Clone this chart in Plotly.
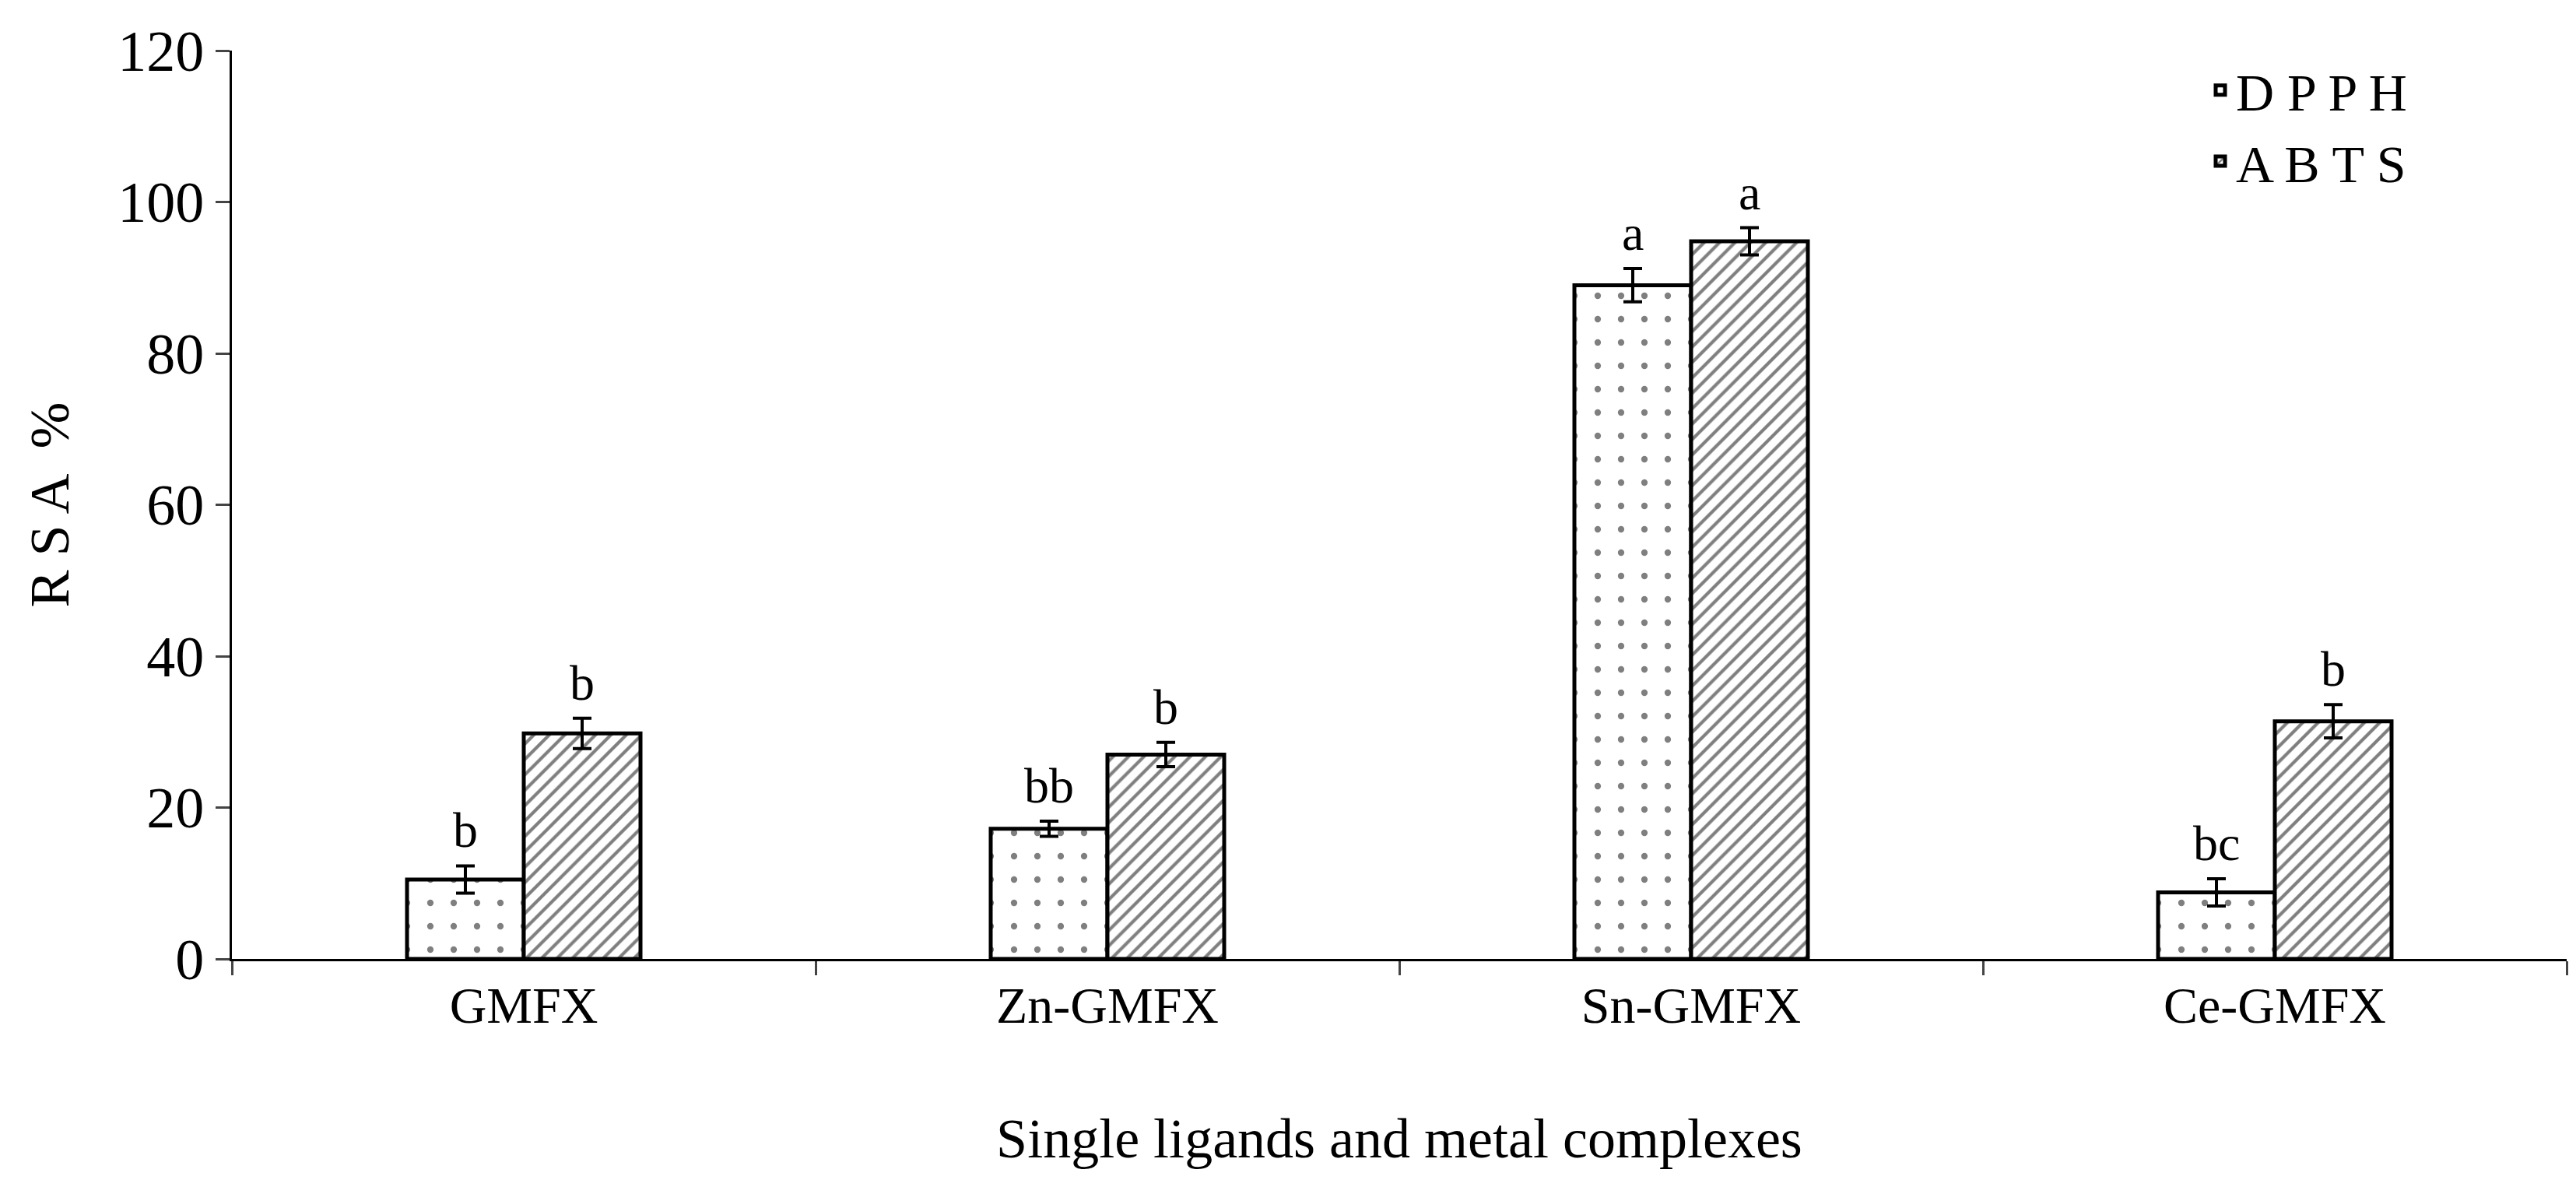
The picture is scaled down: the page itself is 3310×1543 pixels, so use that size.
import plotly.graph_objects as go

categories = ["GMFX", "Zn-GMFX", "Sn-GMFX", "Ce-GMFX"]
dpph = [10.5, 17.2, 89.0, 8.8]
dpph_err = [1.8, 1.0, 2.2, 1.8]
dpph_lbl = ["b", "bb", "a", "bc"]
abts = [29.8, 27.0, 94.8, 31.4]
abts_err = [2.0, 1.6, 1.8, 2.2]
abts_lbl = ["b", "b", "a", "b"]

font = "Liberation Serif, Times New Roman, serif"

fig = go.Figure()
fig.add_trace(go.Bar(
    x=categories, y=dpph, name="D P P H",
    marker=dict(color="white", line=dict(color="black", width=5),
                pattern=dict(shape=".", fgcolor="black", bgcolor="white", size=30, solidity=0.06)),
    error_y=dict(type="data", array=dpph_err, color="black", thickness=4, width=12),
))
fig.add_trace(go.Bar(
    x=categories, y=abts, name="A B T S",
    marker=dict(color="white", line=dict(color="black", width=5),
                pattern=dict(shape="/", fgcolor="black", bgcolor="white", size=14, solidity=0.3)),
    error_y=dict(type="data", array=abts_err, color="black", thickness=4, width=12),
))

# significance letters above the error bars
for cat, v, e, t in zip(categories, dpph, dpph_err, dpph_lbl):
    fig.add_annotation(x=cat, y=v + e, text=t, showarrow=False, xshift=-75,
                       yanchor="bottom", yshift=8, font=dict(size=64))
for cat, v, e, t in zip(categories, abts, abts_err, abts_lbl):
    fig.add_annotation(x=cat, y=v + e, text=t, showarrow=False, xshift=75,
                       yanchor="bottom", yshift=8, font=dict(size=64))

fig.update_layout(
    width=3310, height=1543,
    plot_bgcolor="white", paper_bgcolor="white",
    font=dict(family=font, size=68, color="black"),
    barmode="group", bargap=0.6, bargroupgap=0,
    margin=dict(l=290, r=20, t=57, b=319),
    showlegend=True,
    legend=dict(x=0.845, y=1.0, xanchor="left", yanchor="top",
                font=dict(size=68), bgcolor="rgba(0,0,0,0)"),
    xaxis=dict(showline=True, linecolor="black", linewidth=3,
               ticks="outside", tickson="boundaries", ticklen=18, tickwidth=3,
               tickfont=dict(size=66),
               title=dict(text="Single ligands and metal complexes", font=dict(size=72), standoff=110)),
    yaxis=dict(range=[0, 120], dtick=20, showline=True, linecolor="black", linewidth=3,
               ticks="outside", ticklen=18, tickwidth=3, showgrid=False, zeroline=False,
               tickfont=dict(size=74),
               title=dict(text="R S A  %", font=dict(size=72), standoff=40)),
)

fig.write_html("out.html")
